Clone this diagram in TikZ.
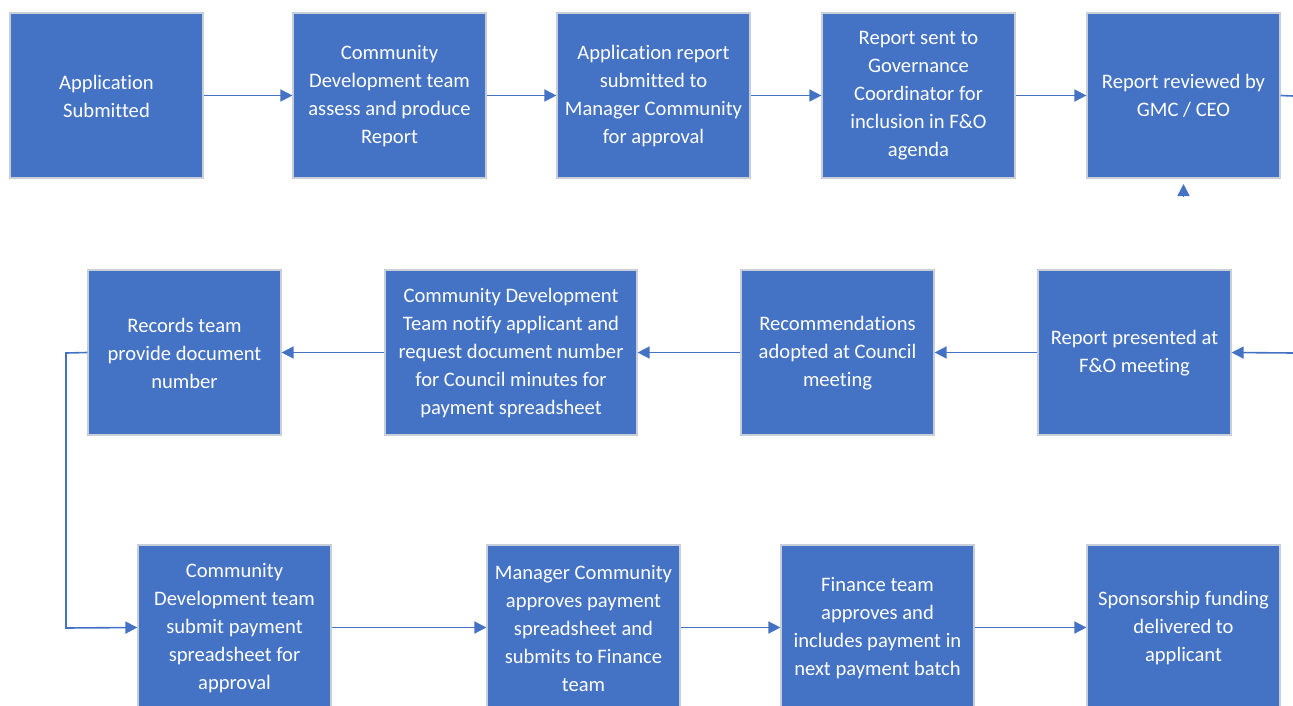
\documentclass[tikz,border=0pt]{standalone}
\usepackage{fontspec}
\setmainfont{Carlito}[Ligatures={NoCommon}]
\usetikzlibrary{arrows.meta}
\definecolor{boxblue}{HTML}{4472C4}
\definecolor{boxedge}{HTML}{C9CFD8}
\begin{document}
\begin{tikzpicture}[x=1pt,y=-1pt,
  box/.style={draw=boxedge, line width=1.2pt, fill=boxblue,
    minimum width=193pt, minimum height=165pt, inner sep=0pt},
  txt/.style={text=white, align=center, inner sep=0pt,
    font=\fontsize{20.6}{28}\selectfont},
  conn/.style={draw=boxblue, line width=1.6pt, line join=miter},
  arr/.style={conn, -{Triangle[length=12pt,width=12pt]}}]
\useasboundingbox (0,0) rectangle (1293,706);
\clip (0,0) rectangle (1293,706);
% row 1
\node[box] (a1) at (106.5,95.5) {};
\node[box] (a2) at (389.5,95.5) {};
\node[box] (a3) at (653.5,95.5) {};
\node[box] (a4) at (918.5,95.5) {};
\node[box] (a5) at (1183.5,95.5) {};
% row 2
\node[box] (b1) at (184.5,352.5) {};
\node[box, minimum width=252pt] (b2) at (511,352.5) {};
\node[box] (b3) at (837.5,352.5) {};
\node[box] (b4) at (1134.5,352.5) {};
% row 3
\node[box] (c1) at (234.5,627.5) {};
\node[box] (c2) at (583.5,627.5) {};
\node[box] (c3) at (877.5,627.5) {};
\node[box] (c4) at (1183.5,627.5) {};
% texts
\node[txt] (a1t) at ([yshift=-0.5pt]a1.center) {Application\\Submitted};
\node[txt] (a2t) at ([yshift=-0.5pt]a2.center) {Community\\Development team\\assess and produce\\Report};
\node[txt] (a3t) at ([yshift=-0.5pt]a3.center) {Application report\\submitted to\\Manager Community\\for approval};
\node[txt] (a4t) at ([yshift=-0.5pt]a4.center) {Report sent to\\Governance\\Coordinator for\\inclusion in F\&O\\agenda};
\node[txt] (a5t) at ([yshift=-0.5pt]a5.center) {Report reviewed by\\GMC / CEO};
\node[txt] (b1t) at ([yshift=-0.5pt]b1.center) {Records team\\provide document\\number};
\node[txt] (b2t) at ([yshift=-0.5pt]b2.center) {Community Development\\Team notify applicant and\\request document number\\for Council minutes for\\payment spreadsheet};
\node[txt] (b3t) at ([yshift=-0.5pt]b3.center) {Recommendations\\adopted at Council\\meeting};
\node[txt] (b4t) at ([yshift=-0.5pt]b4.center) {Report presented at\\F\&O meeting};
\node[txt] (c1t) at ([yshift=-0.5pt]c1.center) {Community\\Development team\\submit payment\\spreadsheet for\\approval};
\node[txt] (c2t) at ([yshift=-0.5pt]c2.center) {Manager Community\\approves payment\\spreadsheet and\\submits to Finance\\team};
\node[txt] (c3t) at ([yshift=-0.5pt]c3.center) {Finance team\\approves and\\includes payment in\\next payment batch};
\node[txt] (c4t) at ([yshift=-0.5pt]c4.center) {Sponsorship funding\\delivered to\\applicant};
% coordinates
\coordinate (e1) at (1293,96);
\coordinate (e2) at (1293,353);
\coordinate (t1) at (1183.5,196);
\coordinate (t2) at (1183.5,184);
\coordinate (k1) at (66,353);
\coordinate (k2) at (66,628);
% connectors
\draw[arr] (a1.east) -- (a2.west);
\draw[arr] (a2.east) -- (a3.west);
\draw[arr] (a3.east) -- (a4.west);
\draw[arr] (a4.east) -- (a5.west);
\draw[conn] (a5.east) -- (e1);
\draw[arr] (t1) -- (t2);
\draw[arr] (e2) -- (b4.east);
\draw[arr] (b4.west) -- (b3.east);
\draw[arr] (b3.west) -- (b2.east);
\draw[arr] (b2.west) -- (b1.east);
\draw[arr] (b1.west) -- (k1) -- (k2) -- (c1.west);
\draw[arr] (c1.east) -- (c2.west);
\draw[arr] (c2.east) -- (c3.west);
\draw[arr] (c3.east) -- (c4.west);
\end{tikzpicture}
\end{document}
